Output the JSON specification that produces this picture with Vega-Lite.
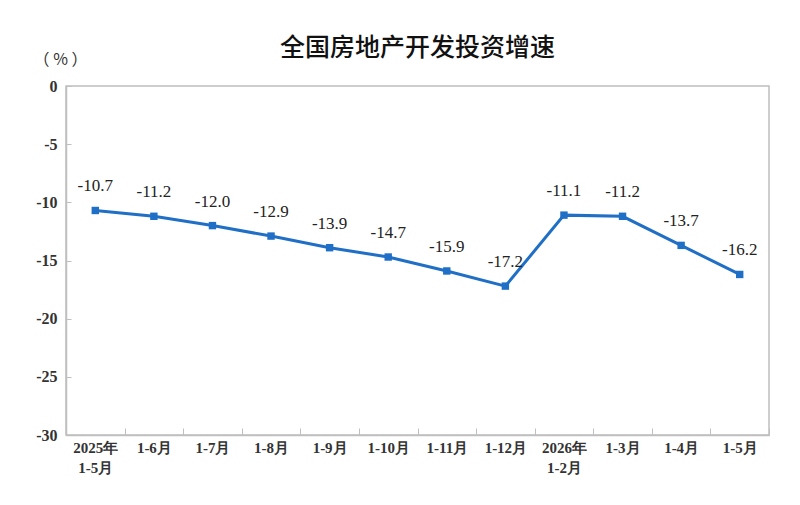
{
  "$schema": "https://vega.github.io/schema/vega-lite/v6.json",
  "width": 703,
  "height": 349,
  "autosize": {"type": "none"},
  "padding": {"left": 66, "top": 86, "right": 31, "bottom": 70},
  "background": "white",
  "title": {
    "text": "全国房地产开发投资增速",
    "font": "Noto Sans CJK SC",
    "fontSize": 25,
    "fontWeight": 500,
    "color": "#111111",
    "anchor": "middle",
    "offset": -10
  },
  "config": {
    "view": {"stroke": "#BFBFBF", "strokeWidth": 1.5},
    "font": "Liberation Serif",
    "locale": {"number": {"decimal": ".", "thousands": ",", "grouping": [3], "currency": ["", ""], "minus": "-"}}
  },
  "data": {
    "values": [
      {"period": "2025年|1-5月", "value": -10.7},
      {"period": "1-6月", "value": -11.2},
      {"period": "1-7月", "value": -12.0},
      {"period": "1-8月", "value": -12.9},
      {"period": "1-9月", "value": -13.9},
      {"period": "1-10月", "value": -14.7},
      {"period": "1-11月", "value": -15.9},
      {"period": "1-12月", "value": -17.2},
      {"period": "2026年|1-2月", "value": -11.1},
      {"period": "1-3月", "value": -11.2},
      {"period": "1-4月", "value": -13.7},
      {"period": "1-5月", "value": -16.2}
    ]
  },
  "encoding": {
    "x": {
      "field": "period",
      "type": "nominal",
      "sort": null,
      "scale": {"paddingInner": 0, "paddingOuter": 0},
      "axis": {
        "title": null,
        "labelAngle": 0,
        "labelExpr": "split(datum.label, '|')",
        "labelFont": "Liberation Serif",
        "labelFontSize": 15,
        "labelFontWeight": "bold",
        "labelColor": "#333333",
        "labelPadding": 12,
        "labelLineHeight": 20,
        "domainColor": "#BFBFBF",
        "domainWidth": 1.5,
        "tickColor": "#BFBFBF",
        "tickSize": -7,
        "tickBand": "extent",
        "tickWidth": 1
      }
    },
    "y": {
      "field": "value",
      "type": "quantitative",
      "scale": {"domain": [-30, 0], "nice": false, "zero": false},
      "axis": {
        "values": [-30, -25, -20, -15, -10, -5, 0],
        "format": "d",
        "title": "（ % ）",
        "titleAngle": 0,
        "titleX": -6,
        "titleY": -19,
        "titleAlign": "center",
        "titleFont": "Noto Sans CJK SC",
        "titleFontSize": 16,
        "titleFontWeight": "normal",
        "titleColor": "#333333",
        "labelFont": "Liberation Serif",
        "labelFontSize": 16,
        "labelFontWeight": "bold",
        "labelColor": "#333333",
        "labelPadding": 14,
        "domainColor": "#BFBFBF",
        "domainWidth": 1.5,
        "tickColor": "#BFBFBF",
        "tickSize": -5,
        "grid": false
      }
    }
  },
  "layer": [
    {
      "mark": {"type": "line", "color": "#1F6FC6", "strokeWidth": 3},
      "encoding": {}
    },
    {
      "mark": {"type": "point", "shape": "square", "filled": true, "color": "#1F6FC6", "size": 55, "opacity": 1},
      "encoding": {}
    },
    {
      "mark": {"type": "text", "dy": -24, "font": "Liberation Serif", "fontSize": 17, "color": "#222222"},
      "encoding": {
        "text": {"field": "value", "type": "quantitative", "format": ".1f"}
      }
    }
  ]
}
